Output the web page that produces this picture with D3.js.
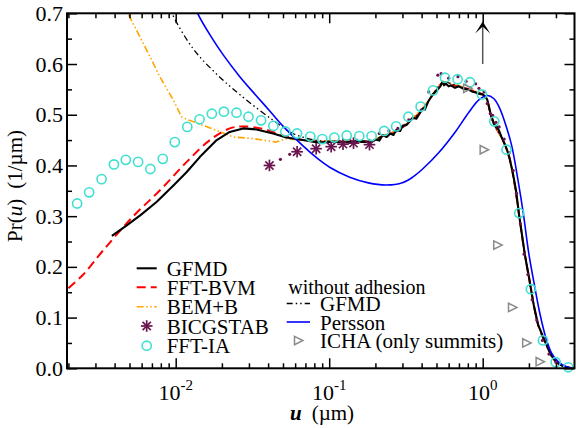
<!DOCTYPE html>
<html><head><meta charset="utf-8">
<script src="https://cdn.jsdelivr.net/npm/d3@7"></script>
<style>
body{margin:0;background:#fff}
svg{display:block}
text{font-family:"Liberation Serif","Times New Roman",serif;fill:#000}
</style>
</head><body>
<svg id="c" width="576" height="428" font-family="Liberation Serif, Times New Roman, serif"></svg>
<script>
// ---------------- data ----------------
const xMajorTicks = [0.01, 0.1, 1];
const xMajorLabels = [["10","-2"],["10","-1"],["10","0"]];
const xMinorTicks = [0.002,0.003,0.004,0.005,0.006,0.007,0.008,0.009,
  0.02,0.03,0.04,0.05,0.06,0.07,0.08,0.09,0.2,0.3,0.4,0.5,0.6,0.7,0.8,0.9,2,3];
const yMajorTicks = [0,0.1,0.2,0.3,0.4,0.5,0.6,0.7];
const yMinorTicks = [0.05,0.15,0.25,0.35,0.45,0.55,0.65];

const gfmd = [[0.00384,0.261],[0.0048,0.282],[0.0059,0.302],[0.0075,0.328],[0.0097,0.361],
  [0.0118,0.387],[0.0144,0.417],[0.0185,0.450],[0.0225,0.466],[0.0275,0.473],[0.0336,0.471],
  [0.0431,0.463],[0.0526,0.455],[0.0642,0.451],[0.0867,0.445],[0.105,0.447],[0.129,0.446],
  [0.16,0.448],[0.188,0.446],[0.20,0.451],[0.212,0.449],[0.223,0.460],[0.237,0.456],[0.25,0.463],
  [0.262,0.460],[0.273,0.470],[0.29,0.468],[0.30,0.478],[0.32,0.480],[0.35,0.494],[0.37,0.492],
  [0.406,0.512],[0.42,0.510],[0.44,0.525],[0.472,0.540],[0.49,0.545],[0.51,0.550],[0.53,0.556],
  [0.548,0.565],[0.56,0.558],[0.575,0.561],[0.6,0.556],[0.62,0.558],[0.66,0.553],[0.70,0.556],
  [0.75,0.551],[0.80,0.550],[0.85,0.546],[0.90,0.544],[0.95,0.541],[1.0,0.540],[1.04,0.536],
  [1.07,0.530],[1.1,0.515],[1.12,0.505],[1.15,0.494],[1.19,0.480],[1.23,0.478],[1.28,0.468],
  [1.33,0.455],[1.4,0.440],[1.45,0.428],[1.49,0.416],[1.56,0.390],[1.65,0.350],[1.73,0.300],
  [1.88,0.225],[2.0,0.180],[2.15,0.125],[2.3,0.085],[2.58,0.049],[2.8,0.025],[3.0,0.013],
  [3.3,0.005],[3.65,0.001],[4.0,0.0]];

const fftBvm = [[0.002,0.158],[0.0025,0.185],[0.0034,0.234],[0.0053,0.300],[0.0079,0.351],
  [0.0118,0.407],[0.0167,0.450],[0.0225,0.473],[0.0275,0.477],[0.0371,0.472],[0.0476,0.461],
  [0.0642,0.451],[0.0867,0.447],[0.12,0.447],[0.16,0.448],[0.19,0.447],[0.22,0.457],[0.27,0.466],
  [0.33,0.485],[0.40,0.508],[0.47,0.538],[0.55,0.563],[0.6,0.560],[0.7,0.556],[0.8,0.551],
  [0.9,0.545],[1.0,0.540],[1.07,0.528],[1.13,0.498],[1.2,0.478],[1.3,0.460],[1.4,0.440],
  [1.5,0.413],[1.6,0.370],[1.73,0.300],[1.88,0.225],[2.0,0.180],[2.15,0.125],[2.3,0.085],
  [2.58,0.048],[3.0,0.013],[3.5,0.002],[4.0,0.0]];

const bemB = [[0.0046,0.73],[0.00488,0.70],[0.00648,0.627],[0.00791,0.574],[0.00965,0.529],
  [0.0109,0.496],[0.0118,0.491],[0.0151,0.479],[0.0185,0.469],[0.0237,0.456],[0.032,0.453],
  [0.045,0.446],[0.053,0.453],[0.065,0.450],[0.09,0.448],[0.13,0.449],[0.19,0.448],[0.22,0.458],
  [0.27,0.468],[0.33,0.487],[0.40,0.510],[0.47,0.540],[0.55,0.566],[0.7,0.557],[0.9,0.546],
  [1.0,0.540],[1.07,0.528],[1.13,0.498],[1.2,0.478],[1.3,0.460],[1.4,0.440],[1.5,0.413],
  [1.6,0.370],[1.73,0.300],[1.88,0.225],[2.0,0.180],[2.15,0.125],[2.3,0.085],[2.58,0.048],
  [3.0,0.013],[3.5,0.002],[4.0,0.0]];

const bicgstabStars = [[0.0408,0.400],[0.0618,0.427],[0.0822,0.433],[0.103,0.437],
  [0.123,0.442],[0.144,0.444],[0.183,0.441]];
const bicgstabDots = [[0.0481,0.412],[0.0553,0.422],[0.212,0.463],[0.245,0.468],[0.28,0.473],
  [0.33,0.490],[0.397,0.509],[0.445,0.545],[0.51,0.578],[0.536,0.581],[0.6,0.572],[0.69,0.575],
  [0.78,0.566],[0.90,0.561],[0.945,0.552],[1.02,0.545],[1.07,0.522],[1.12,0.502],[1.16,0.499],
  [1.22,0.485],[1.28,0.476],[1.38,0.452],[1.49,0.425],[1.58,0.39],[1.66,0.345],[1.76,0.285],
  [1.86,0.225],[1.97,0.185],[2.1,0.135],[2.25,0.095],[2.45,0.055],[2.7,0.028],[3.0,0.012]];

const fftIa = [[0.00228,0.325],[0.00273,0.347],[0.00329,0.373],[0.00396,0.402],[0.00473,0.411],
  [0.00569,0.407],[0.00684,0.393],[0.00824,0.413],[0.00986,0.446],[0.0119,0.476],[0.0143,0.491],
  [0.0172,0.502],[0.0206,0.506],[0.0249,0.504],[0.0298,0.496],[0.0360,0.489],[0.0433,0.478],
  [0.0518,0.467],[0.0617,0.463],[0.0753,0.457],[0.0902,0.452],[0.108,0.455],[0.130,0.459],
  [0.157,0.458],[0.189,0.458],[0.228,0.468],[0.273,0.477],[0.328,0.496],[0.394,0.516],
  [0.475,0.548],[0.568,0.573],[0.686,0.570],[0.826,0.564],[0.989,0.540],[1.19,0.487],
  [1.43,0.431],[1.73,0.306],[2.06,0.156],[2.47,0.055],[2.99,0.012],[3.61,0.002]];

const gfmdNoAdh = [[0.0090,0.72],[0.00946,0.70],[0.0130,0.630],[0.0194,0.574],[0.0289,0.529],
  [0.0431,0.489],[0.058,0.463],[0.075,0.452],[0.09,0.448],[0.13,0.447],[0.19,0.447],[0.22,0.458],
  [0.27,0.466],[0.33,0.485],[0.40,0.508],[0.47,0.538],[0.55,0.563],[0.7,0.556],[0.9,0.545],
  [1.0,0.540],[1.07,0.528],[1.13,0.498],[1.2,0.478],[1.3,0.460],[1.4,0.440],[1.5,0.413],
  [1.6,0.370],[1.73,0.300],[1.88,0.225],[2.0,0.180],[2.15,0.125],[2.3,0.085],[2.58,0.048],
  [3.0,0.013],[3.5,0.002],[4.0,0.0]];

const persson = [[0.0128,0.73],[0.0139,0.70],[0.0170,0.654],[0.0204,0.618],[0.0260,0.576],
  [0.0336,0.537],[0.041,0.5075],[0.050,0.4775],[0.0675,0.4385],[0.085,0.4123],[0.1006,0.3964],
  [0.136,0.3767],[0.18,0.3656],[0.235,0.3615],[0.30,0.366],[0.35,0.377],[0.406,0.393],[0.52,0.426],
  [0.67,0.468],[0.817,0.506],[0.948,0.530],[1.074,0.538],[1.18,0.532],[1.28,0.515],[1.42,0.478],
  [1.55,0.437],[1.70,0.370],[1.84,0.305],[2.0,0.225],[2.17,0.165],[2.35,0.110],[2.58,0.060],
  [2.81,0.030],[3.1,0.013],[3.5,0.003],[4.0,0.0]];

const ichaSummits = [[0.796,0.552],[1.02,0.431],[1.25,0.243],[1.56,0.120],[1.93,0.050],[2.36,0.013]];

const arrowU = 1, arrowFrom = 0.6, arrowTo = 0.684;

const legendLeft = ["GFMD","FFT-BVM","BEM+B","BICGSTAB","FFT-IA"];
const legendRightTitle = "without adhesion";
const legendRight = ["GFMD","Persson","ICHA (only summits)"];

// ---------------- drawing ----------------
const svg = d3.select("#c");
const L=67, R=574.5, T=13.3, B=368.3;
const x = d3.scaleLog().domain([0.01,1]).range([175.7,482.7]);
const y = d3.scaleLinear().domain([0,0.7]).range([B,T]);

svg.append("defs").append("clipPath").attr("id","clip")
  .append("rect").attr("x",L).attr("y",T).attr("width",R-L).attr("height",B-T);

const COL = {black:"#000", red:"#ff0000", orange:"#ffa500", maroon:"#6b1550",
  cyan:"#40e0d0", blue:"#0000ff", grey:"#8a8a8a"};

const line = d3.line().x(d=>x(d[0])).y(d=>y(d[1]));
const smooth = d3.line().x(d=>x(d[0])).y(d=>y(d[1])).curve(d3.curveCatmullRom.alpha(0.5));
const plot = svg.append("g").attr("clip-path","url(#clip)");

function path(data, gen, color, w, dash){
  const p = plot.append("path").datum(data).attr("d",gen).attr("fill","none")
    .attr("stroke",color).attr("stroke-width",w).attr("stroke-linejoin","round");
  if(dash) p.attr("stroke-dasharray",dash);
  return p;
}
path(fftBvm, smooth, COL.red, 2, "9,5");
path(bemB, line, COL.orange, 1.6, "7,2.5,1.5,2.5,1.5,2.5");
path(gfmd, line, COL.black, 2.1);
path(gfmdNoAdh, smooth, COL.black, 1.3, "6,3,1.5,3,1.5,3");
path(persson, smooth, COL.blue, 1.6);

// BICGSTAB
function star(g, cx, cy, r, color){
  for(let k=0;k<4;k++){
    const a = k*Math.PI/4;
    g.append("line").attr("x1",cx-r*Math.cos(a)).attr("y1",cy-r*Math.sin(a))
      .attr("x2",cx+r*Math.cos(a)).attr("y2",cy+r*Math.sin(a))
      .attr("stroke",color).attr("stroke-width",1.7);
  }
}
const marks = svg.append("g");
bicgstabDots.forEach(d=>marks.append("circle").attr("cx",x(d[0])).attr("cy",y(d[1]))
  .attr("r",1.6).attr("fill",COL.maroon));
bicgstabStars.forEach(d=>star(marks, x(d[0]), y(d[1]), 5.8, COL.maroon));

// FFT-IA circles
marks.selectAll("circle.ia").data(fftIa).join("circle").attr("class","ia")
  .attr("cx",d=>x(d[0])).attr("cy",d=>y(d[1])).attr("r",4.6)
  .attr("fill","none").attr("stroke",COL.cyan).attr("stroke-width",1.6);

// ICHA triangles
function tri(g, cx, cy, s){
  g.append("path").attr("d",`M${cx-s*0.55},${cy-s*0.6}L${cx+s*0.65},${cy}L${cx-s*0.55},${cy+s*0.6}Z`)
    .attr("fill","none").attr("stroke",COL.grey).attr("stroke-width",1.5);
}
ichaSummits.forEach(d=>tri(marks, x(d[0]), y(d[1]), 7));

// arrow
const ax = x(arrowU);
svg.append("line").attr("x1",ax).attr("x2",ax).attr("y1",y(arrowFrom)).attr("y2",y(arrowTo)+4)
  .attr("stroke","#555").attr("stroke-width",1.5);
const ty = y(arrowTo);
svg.append("path").attr("d",`M${ax},${ty}L${ax-7.5},${ty+12}L${ax},${ty+5}L${ax+7.5},${ty+12}Z`)
  .attr("fill","#000");

// axes
function styleAxis(g){ g.select(".domain").remove();
  g.selectAll(".tick line").attr("stroke","#000").attr("stroke-width",1.5); }
svg.append("g").attr("transform",`translate(0,${B})`)
  .call(d3.axisBottom(x).tickValues(xMajorTicks).tickSize(-10).tickFormat("")).call(styleAxis);
svg.append("g").attr("transform",`translate(0,${B})`)
  .call(d3.axisBottom(x).tickValues(xMinorTicks).tickSize(-5).tickFormat("")).call(styleAxis);
svg.append("g").attr("transform",`translate(0,${T})`)
  .call(d3.axisTop(x).tickValues(xMajorTicks).tickSize(-10).tickFormat("")).call(styleAxis);
svg.append("g").attr("transform",`translate(0,${T})`)
  .call(d3.axisTop(x).tickValues(xMinorTicks).tickSize(-5).tickFormat("")).call(styleAxis);
svg.append("g").attr("transform",`translate(${L},0)`)
  .call(d3.axisLeft(y).tickValues(yMajorTicks).tickSize(-10).tickFormat("")).call(styleAxis);
svg.append("g").attr("transform",`translate(${L},0)`)
  .call(d3.axisLeft(y).tickValues(yMinorTicks).tickSize(-5).tickFormat("")).call(styleAxis);
svg.append("g").attr("transform",`translate(${R},0)`)
  .call(d3.axisRight(y).tickValues(yMajorTicks).tickSize(-10).tickFormat("")).call(styleAxis);
svg.append("g").attr("transform",`translate(${R},0)`)
  .call(d3.axisRight(y).tickValues(yMinorTicks).tickSize(-5).tickFormat("")).call(styleAxis);

svg.append("rect").attr("x",L).attr("y",T).attr("width",R-L).attr("height",B-T)
  .attr("fill","none").attr("stroke","#000").attr("stroke-width",2);

// tick labels
xMajorTicks.forEach((v,i)=>{
  const t = svg.append("text").attr("x",x(v)).attr("y",400).attr("text-anchor","middle")
    .attr("font-size",22);
  t.append("tspan").text(xMajorLabels[i][0]);
  t.append("tspan").attr("dy",-10).attr("font-size",15).text(xMajorLabels[i][1]);
});
yMajorTicks.forEach(v=>{
  svg.append("text").attr("x",63).attr("y",y(v)+7.5).attr("text-anchor","end")
    .attr("font-size",22).text(d3.format(".1f")(v));
});

// axis titles
const xt = svg.append("text").attr("x",290).attr("y",420).attr("font-size",21);
xt.append("tspan").attr("font-weight","bold").attr("font-style","italic").text("u");
xt.append("tspan").attr("dx",10).text("(µm)");
const yt = svg.append("text").attr("transform","translate(22,186) rotate(-90)")
  .attr("text-anchor","middle").attr("font-size",21);
yt.append("tspan").text("Pr(");
yt.append("tspan").attr("font-style","italic").text("u");
yt.append("tspan").text(")");
yt.append("tspan").attr("dx",10).text("(1/µm)");

// legend left
const rowsL = [268.3,287.3,306.7,326,345.7];
const lx0=136.7, lx1=156.7, ltx=166.7;
const lg = svg.append("g");
lg.append("line").attr("x1",lx0).attr("x2",lx1).attr("y1",rowsL[0]).attr("y2",rowsL[0])
  .attr("stroke",COL.black).attr("stroke-width",2.1);
lg.append("line").attr("x1",lx0).attr("x2",lx1).attr("y1",rowsL[1]).attr("y2",rowsL[1])
  .attr("stroke",COL.red).attr("stroke-width",2).attr("stroke-dasharray","9,5");
lg.append("line").attr("x1",lx0).attr("x2",lx1).attr("y1",rowsL[2]).attr("y2",rowsL[2])
  .attr("stroke",COL.orange).attr("stroke-width",1.6).attr("stroke-dasharray","7,2.5,1.5,2.5,1.5,2.5");
star(lg, (lx0+lx1)/2, rowsL[3], 5.8, COL.maroon);
lg.append("circle").attr("cx",(lx0+lx1)/2).attr("cy",rowsL[4]).attr("r",4.6)
  .attr("fill","none").attr("stroke",COL.cyan).attr("stroke-width",1.6);
legendLeft.forEach((s,i)=>lg.append("text").attr("x",ltx).attr("y",rowsL[i]+7.5)
  .attr("font-size",21).text(s));

// legend right
const rowsR = [303.5,322,340.5];
const rx0=286.7, rx1=310, rtx=320;
lg.append("text").attr("x",288.3).attr("y",293.5).attr("font-size",20).text(legendRightTitle);
lg.append("line").attr("x1",rx0).attr("x2",rx1).attr("y1",rowsR[0]).attr("y2",rowsR[0])
  .attr("stroke",COL.black).attr("stroke-width",1.3).attr("stroke-dasharray","6,3,1.5,3,1.5,3");
lg.append("line").attr("x1",rx0).attr("x2",rx1).attr("y1",rowsR[1]).attr("y2",rowsR[1])
  .attr("stroke",COL.blue).attr("stroke-width",1.6);
tri(lg, (rx0+rx1)/2, rowsR[2], 7);
legendRight.forEach((s,i)=>lg.append("text").attr("x",rtx).attr("y",rowsR[i]+7.5)
  .attr("font-size",21).text(s));
</script>
</body></html>
